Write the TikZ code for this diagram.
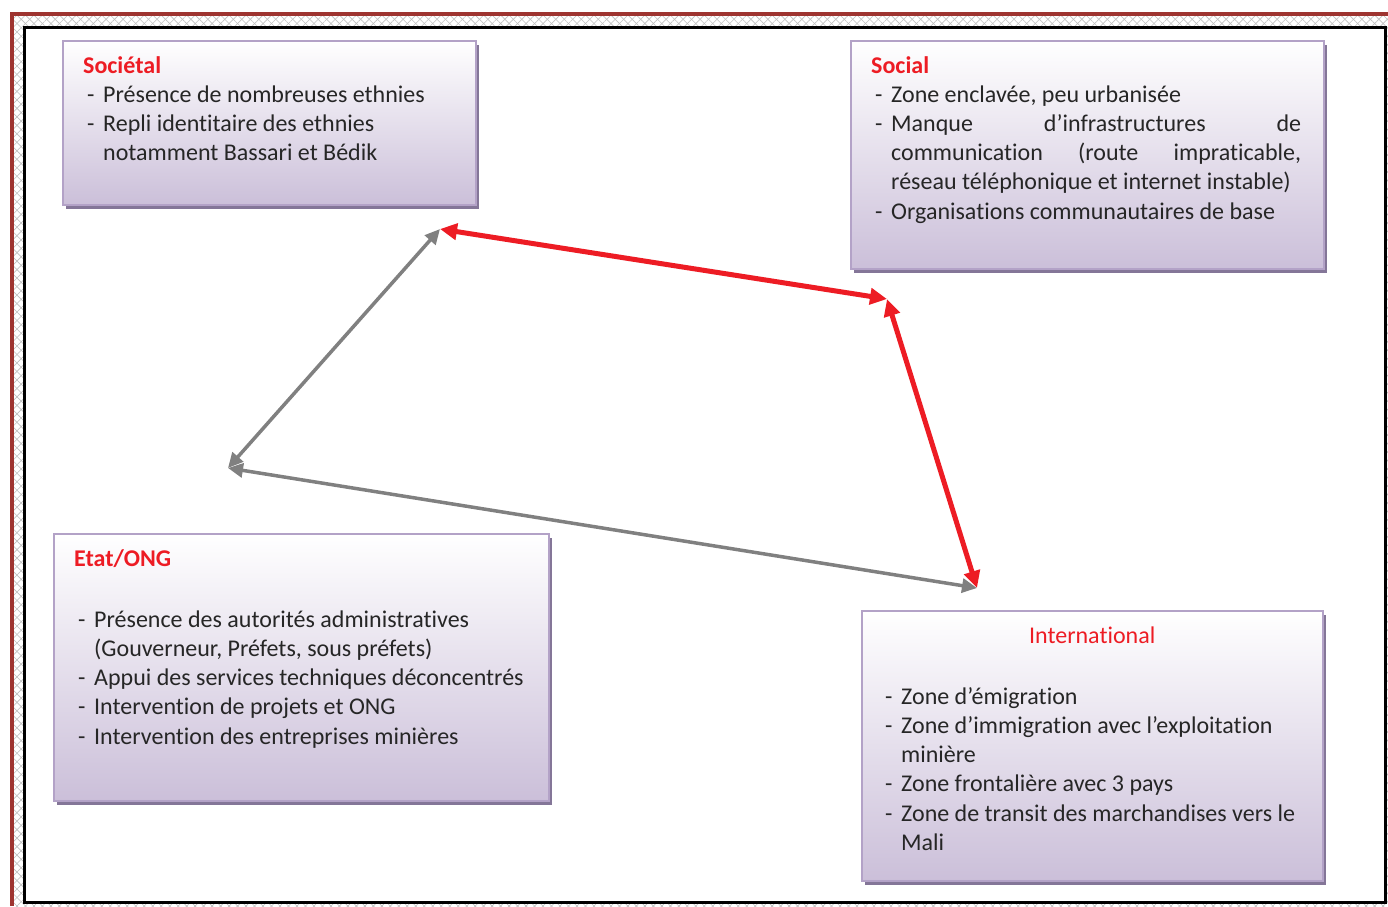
\documentclass[tikz,border=0pt]{standalone}
\usepackage{fontspec}
\setmainfont{Carlito}[Ligatures=NoCommon]
\usetikzlibrary{arrows.meta}
\usetikzlibrary{patterns.meta}
\usetikzlibrary{shadows}

\definecolor{hdred}{RGB}{237,28,36}
\definecolor{pagered}{RGB}{158,52,48}
\definecolor{lavline}{RGB}{179,162,199}
\definecolor{lavbot}{RGB}{203,191,217}
\definecolor{shadowgray}{RGB}{132,118,152}
\definecolor{txtgray}{RGB}{38,38,38}
\definecolor{arrgray}{RGB}{128,128,128}

\newcommand{\hd}[1]{{\bfseries\color{hdred}#1}\par}
\newcommand{\bul}[1]{\par\hangindent=20pt\hangafter=1\noindent\hspace*{4pt}\makebox[16pt][l]{-}#1}

\tikzset{
  boxstyle/.style={draw=lavline, line width=2pt, top color=white, bottom color=lavbot,
    anchor=north west, inner sep=0pt,
    drop shadow={shadow xshift=3pt, shadow yshift=-4pt, fill=shadowgray, opacity=1}},
  boxtext/.style={anchor=base west, inner sep=0pt, text=txtgray, align=justify,
    font=\fontsize{24}{29.2}\selectfont},
  tipg/.tip={Triangle[length=15pt, width=14pt]},
  tipr/.tip={Triangle[length=17pt, width=16pt]},
  grayarrow/.style={draw=arrgray, line width=3.5pt, tipg-tipg},
  redarrow/.style={draw=hdred, line width=5pt, tipr-tipr}
}

\begin{document}
\begin{tikzpicture}[x=1pt, y=-1pt]
\useasboundingbox (0,0) rectangle (1388,906);
\fill[white] (0,0) rectangle (1388,906);
\fill[pattern={Lines[angle=45, distance=6pt, line width=0.6pt]}, pattern color=gray!50] (14,16) rectangle (1388,906);
\fill[pattern={Lines[angle=-45, distance=6pt, line width=0.6pt]}, pattern color=gray!50] (14,16) rectangle (1388,906);
\draw[pagered, line width=4pt] (12,906) -- (12,14) -- (1388,14);
\draw[black, line width=3pt, fill=white] (24,27) rectangle (1385,902);

\node[boxstyle, minimum width=413pt, minimum height=164pt] (soc) at (62,40) {};
\node[boxstyle, minimum width=473pt, minimum height=228pt] (social) at (850,40) {};
\node[boxstyle, minimum width=495pt, minimum height=267pt] (etat) at (53,533) {};
\node[boxstyle, minimum width=461pt, minimum height=270pt] (intl) at (861,610) {};

\node[boxtext, text width=380pt] (socT) at (83,73) {\hd{Sociétal}%
  \bul{Présence de nombreuses ethnies}%
  \bul{Repli identitaire des ethnies\newline notamment Bassari et Bédik}\par};
\node[boxtext, text width=430pt] (socialT) at (871,73) {\hd{Social}%
  \bul{Zone enclavée, peu urbanisée}%
  \bul{Manque d’infrastructures de\linebreak communication (route impraticable,\linebreak réseau téléphonique et internet instable)}%
  \bul{Organisations communautaires de base}\par};
\node[boxtext, text width=460pt] (etatT) at (74,566) {\hd{Etat/ONG}\vspace{32pt}%
  \bul{Présence des autorités administratives\newline (Gouverneur, Préfets, sous préfets)}%
  \bul{Appui des services techniques déconcentrés}%
  \bul{Intervention de projets et ONG}%
  \bul{Intervention des entreprises minières}\par};
\node[boxtext, text width=422pt] (intlT) at (881,643) {\makebox[\linewidth]{\color{hdred}International}\par\vspace{32pt}%
  \bul{Zone d’émigration}%
  \bul{Zone d’immigration avec l’exploitation\newline minière}%
  \bul{Zone frontalière avec 3 pays}%
  \bul{Zone de transit des marchandises vers le\newline Mali}\par};

\coordinate (pSoc) at (440,229);
\coordinate (pSocial) at (887,299);
\coordinate (pEtat) at (228,468);
\coordinate (pIntl) at (977,588);

\draw[grayarrow] (pSoc) -- (pEtat);
\draw[grayarrow] (pEtat) -- (pIntl);
\draw[redarrow] (pSoc) -- (pSocial);
\draw[redarrow] (pSocial) -- (pIntl);
\end{tikzpicture}
\end{document}
